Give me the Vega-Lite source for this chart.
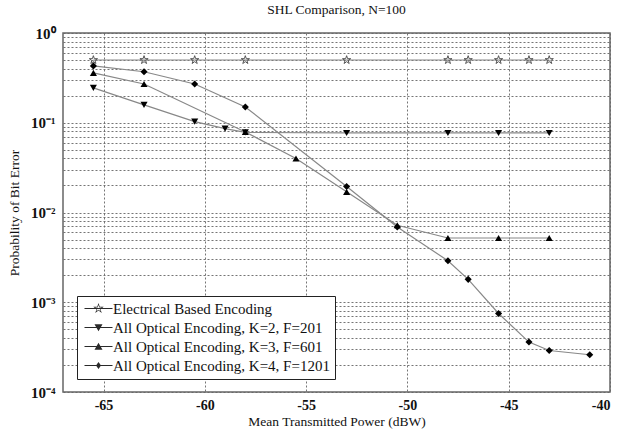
{
  "$schema": "https://vega.github.io/schema/vega-lite/v6.json",
  "width": 547,
  "height": 359,
  "autosize": {"type": "none"},
  "padding": {"left": 63, "top": 33, "right": 16, "bottom": 38},
  "background": "white",
  "config": {
    "font": "Liberation Serif",
    "view": {"stroke": "#666", "strokeWidth": 1.5},
    "title": {"font": "Liberation Serif", "fontSize": 13.5, "fontWeight": "normal", "color": "#111"}
  },
  "title": {"text": "SHL Comparison, N=100", "offset": 10},
  "resolve": {"scale": {"shape": "independent"}},
  "data": {
    "values": [
      {"s": "Electrical Based Encoding", "x": -65.5, "y": 0.5},
      {"s": "Electrical Based Encoding", "x": -63, "y": 0.5},
      {"s": "Electrical Based Encoding", "x": -60.5, "y": 0.5},
      {"s": "Electrical Based Encoding", "x": -58, "y": 0.5},
      {"s": "Electrical Based Encoding", "x": -53, "y": 0.5},
      {"s": "Electrical Based Encoding", "x": -48, "y": 0.5},
      {"s": "Electrical Based Encoding", "x": -47, "y": 0.5},
      {"s": "Electrical Based Encoding", "x": -45.5, "y": 0.5},
      {"s": "Electrical Based Encoding", "x": -44, "y": 0.5},
      {"s": "Electrical Based Encoding", "x": -43, "y": 0.5},
      {"s": "All Optical Encoding, K=2, F=201", "x": -65.5, "y": 0.245},
      {"s": "All Optical Encoding, K=2, F=201", "x": -63, "y": 0.158},
      {"s": "All Optical Encoding, K=2, F=201", "x": -60.5, "y": 0.103},
      {"s": "All Optical Encoding, K=2, F=201", "x": -59, "y": 0.086},
      {"s": "All Optical Encoding, K=2, F=201", "x": -58, "y": 0.078},
      {"s": "All Optical Encoding, K=2, F=201", "x": -53, "y": 0.077},
      {"s": "All Optical Encoding, K=2, F=201", "x": -48, "y": 0.077},
      {"s": "All Optical Encoding, K=2, F=201", "x": -45.5, "y": 0.077},
      {"s": "All Optical Encoding, K=2, F=201", "x": -43, "y": 0.077},
      {"s": "All Optical Encoding, K=3, F=601", "x": -65.5, "y": 0.36},
      {"s": "All Optical Encoding, K=3, F=601", "x": -63, "y": 0.27},
      {"s": "All Optical Encoding, K=3, F=601", "x": -58, "y": 0.079},
      {"s": "All Optical Encoding, K=3, F=601", "x": -55.5, "y": 0.04},
      {"s": "All Optical Encoding, K=3, F=601", "x": -53, "y": 0.017},
      {"s": "All Optical Encoding, K=3, F=601", "x": -50.5, "y": 0.0072},
      {"s": "All Optical Encoding, K=3, F=601", "x": -48, "y": 0.0052},
      {"s": "All Optical Encoding, K=3, F=601", "x": -45.5, "y": 0.0052},
      {"s": "All Optical Encoding, K=3, F=601", "x": -43, "y": 0.0052},
      {"s": "All Optical Encoding, K=4, F=1201", "x": -65.5, "y": 0.43},
      {"s": "All Optical Encoding, K=4, F=1201", "x": -63, "y": 0.37},
      {"s": "All Optical Encoding, K=4, F=1201", "x": -60.5, "y": 0.27},
      {"s": "All Optical Encoding, K=4, F=1201", "x": -58, "y": 0.15},
      {"s": "All Optical Encoding, K=4, F=1201", "x": -53, "y": 0.0195},
      {"s": "All Optical Encoding, K=4, F=1201", "x": -50.5, "y": 0.0069},
      {"s": "All Optical Encoding, K=4, F=1201", "x": -48, "y": 0.0029},
      {"s": "All Optical Encoding, K=4, F=1201", "x": -47, "y": 0.0018},
      {"s": "All Optical Encoding, K=4, F=1201", "x": -45.5, "y": 0.00075},
      {"s": "All Optical Encoding, K=4, F=1201", "x": -44, "y": 0.00036},
      {"s": "All Optical Encoding, K=4, F=1201", "x": -43, "y": 0.00029},
      {"s": "All Optical Encoding, K=4, F=1201", "x": -41, "y": 0.00026}
    ]
  },
  "encoding": {
    "x": {
      "field": "x", "type": "quantitative",
      "scale": {"domain": [-67, -40], "nice": false, "zero": false},
      "axis": {
        "title": "Mean Transmitted Power (dBW)",
        "values": [-65, -60, -55, -50, -45, -40],
        "labelExpr": "'' + datum.value",
        "grid": true, "gridDash": [2, 2], "gridColor": "#666", "gridOpacity": 0.9,
        "domain": false, "ticks": false,
        "labelFont": "Liberation Serif", "labelFontSize": 14, "labelFontWeight": "bold", "labelColor": "#111",
        "labelPadding": 6,
        "titleFont": "Liberation Serif", "titleFontSize": 13.5, "titleFontWeight": "normal", "titleColor": "#111",
        "titlePadding": 2
      }
    },
    "y": {
      "field": "y", "type": "quantitative",
      "scale": {"type": "log", "domain": [0.0001, 1], "nice": false},
      "axis": {
        "title": "Probability of Bit Error",
        "values": [0.0001, 0.0002, 0.0003, 0.0004, 0.0005, 0.0006, 0.0007, 0.0008, 0.0009, 0.001, 0.002, 0.003, 0.004, 0.005, 0.006, 0.007, 0.008, 0.009, 0.01, 0.02, 0.03, 0.04, 0.05, 0.06, 0.07, 0.08, 0.09, 0.1, 0.2, 0.3, 0.4, 0.5, 0.6, 0.7, 0.8, 0.9, 1],
        "labelExpr": "datum.value == 1 ? '10⁰' : abs(datum.value - 0.1) < 1e-9 ? '10⁻¹' : abs(datum.value - 0.01) < 1e-10 ? '10⁻²' : abs(datum.value - 0.001) < 1e-11 ? '10⁻³' : abs(datum.value - 0.0001) < 1e-12 ? '10⁻⁴' : ''",
        "grid": true, "gridDash": [2, 2], "gridColor": "#666", "gridOpacity": 0.9,
        "domain": false, "ticks": false,
        "labelFont": "Liberation Serif", "labelFontSize": 15, "labelFontWeight": "bold", "labelColor": "#111",
        "labelPadding": 8, "labelOverlap": false,
        "titleFont": "Liberation Serif", "titleFontSize": 13.5, "titleFontWeight": "normal", "titleColor": "#111",
        "titlePadding": 9
      }
    }
  },
  "layer": [
    {
      "mark": {"type": "line", "color": "#888", "strokeWidth": 1.2},
      "encoding": {"detail": {"field": "s"}}
    },
    {
      "transform": [{"filter": "datum.s == 'Electrical Based Encoding'"}],
      "mark": {"type": "point", "filled": false, "color": "#555", "strokeWidth": 1, "opacity": 1, "size": 75},
      "encoding": {
        "shape": {
          "field": "s", "type": "nominal",
          "scale": {
            "domain": ["Electrical Based Encoding"],
            "range": ["M0,-1L0.225,-0.309L0.951,-0.309L0.363,0.118L0.588,0.809L0,0.382L-0.588,0.809L-0.363,0.118L-0.951,-0.309L-0.225,-0.309Z"]
          },
          "legend": null
        }
      }
    },
    {
      "transform": [{"filter": "datum.s != 'Electrical Based Encoding'"}],
      "mark": {"type": "point", "filled": true, "color": "black", "opacity": 1, "size": 50},
      "encoding": {
        "shape": {
          "field": "s", "type": "nominal",
          "scale": {
            "domain": ["All Optical Encoding, K=2, F=201", "All Optical Encoding, K=3, F=601", "All Optical Encoding, K=4, F=1201"],
            "range": ["triangle-down", "triangle-up", "diamond"]
          },
          "legend": null
        }
      }
    },
    {
      "mark": {"type": "point", "filled": true, "color": "#2a2a2a", "opacity": 0, "size": 100},
      "encoding": {
        "shape": {
          "field": "s", "type": "nominal",
          "scale": {
            "domain": ["Electrical Based Encoding", "All Optical Encoding, K=2, F=201", "All Optical Encoding, K=3, F=601", "All Optical Encoding, K=4, F=1201"],
            "range": [
              "M-1,-0.11L4.6,-0.11L4.6,0.11L-1,0.11ZM1.8,-1.1L2.047,-0.34L2.846,-0.34L2.199,0.13L2.447,0.89L1.8,0.42L1.153,0.89L1.401,0.13L0.754,-0.34L1.553,-0.34ZM1.8,-0.7L1.643,-0.216L1.134,-0.216L1.546,0.083L1.388,0.566L1.8,0.267L2.212,0.566L2.054,0.083L2.466,-0.216L1.957,-0.216Z",
              "M-1,-0.11L4.6,-0.11L4.6,0.11L-1,0.11ZM1.0,-0.65L2.6,-0.65L1.8,0.75Z",
              "M-1,-0.11L4.6,-0.11L4.6,0.11L-1,0.11ZM1.0,0.65L1.8,-0.75L2.6,0.65Z",
              "M-1,-0.11L4.6,-0.11L4.6,0.11L-1,0.11ZM1.8,-0.7L2.3,0L1.8,0.7L1.3,0Z"
            ]
          },
          "legend": {
            "title": null,
            "orient": "none", "legendX": 14, "legendY": 263,
            "fillColor": "white", "strokeColor": "#222", "padding": 5,
            "rowPadding": 3,
            "labelFont": "Liberation Serif", "labelFontSize": 15, "labelColor": "#111", "labelOffset": 16,
            "labelLimit": 400
          }
        }
      }
    }
  ]
}
